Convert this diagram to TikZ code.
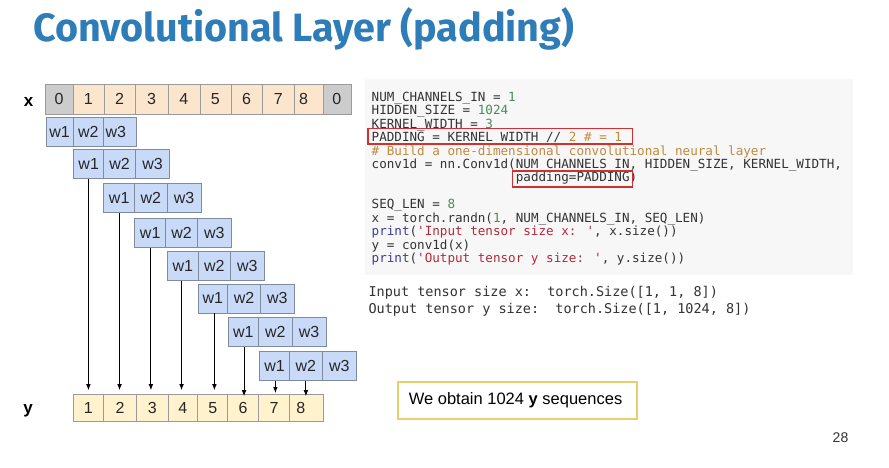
\documentclass[tikz,border=0pt]{standalone}
\usepackage{fontspec}
\setmainfont{Liberation Sans}
\newfontfamily\titlefont{Fira Sans}
\newfontfamily\codefont{DejaVu Sans Mono}[Ligatures=TeXOff]
\usetikzlibrary{arrows.meta}
\definecolor{titleblue}{HTML}{2F7DB8}
\definecolor{xfill}{HTML}{FCE5CD}
\definecolor{padfill}{HTML}{CCCCCC}
\definecolor{wfill}{HTML}{C9DAF8}
\definecolor{yfill}{HTML}{FFF2CC}
\definecolor{cellborder}{HTML}{9A9A9A}
\definecolor{wborder}{HTML}{7F8C9E}
\definecolor{codebg}{HTML}{F7F7F7}
\definecolor{codetxt}{HTML}{333333}
\definecolor{cnum}{HTML}{4A8A5A}
\definecolor{ccom}{HTML}{BF8A40}
\definecolor{ckey}{HTML}{3B3B9B}
\definecolor{cstr}{HTML}{B22A3A}
\definecolor{redbox}{HTML}{D03030}
\definecolor{goldbox}{HTML}{E8CF6E}
\begin{document}
\begin{tikzpicture}[x=1pt,y=-1pt,
  cellbase/.style={draw=cellborder, line width=0.8pt, inner sep=0pt, minimum height=30pt,
    anchor=north west, font=\fontsize{16}{18}\selectfont, text=black!85},
  xcell/.style={cellbase, fill=xfill},
  padcell/.style={cellbase, fill=padfill},
  ycell/.style={cellbase, fill=yfill, minimum height=27pt},
  wcell/.style={cellbase, draw=wborder, fill=wfill, minimum height=29pt},
  rowlabel/.style={font=\fontsize{17}{18}\selectfont\bfseries, anchor=base},
  codeline/.style={anchor=base west, inner sep=0pt, font=\codefont\fontsize{12.6}{13}\selectfont, text=codetxt},
  outline/.style={anchor=base west, inner sep=0pt, font=\codefont\fontsize{13.5}{14}\selectfont, text=codetxt},
  hilite/.style={draw=redbox, line width=1.6pt, inner sep=0pt, anchor=north west},
  arr/.style={-{Latex[length=6pt,width=4.6pt]}, line width=0.9pt, black}
]
\useasboundingbox[fill=white] (0,0) rectangle (889,467);

% title
\node[anchor=base west, inner sep=0pt, text=titleblue, font=\titlefont\bfseries\fontsize{39.5}{42}\selectfont] (title) at (33,41) {Convolutional Layer (padding)};

% x row
\foreach \i/\a/\b/\t/\s in {0/45/72.5/0/padcell, 1/72.5/103.5/1/xcell, 2/103.5/135/2/xcell, 3/135/167.5/3/xcell,
  4/167.5/199.5/4/xcell, 5/199.5/230.5/5/xcell, 6/230.5/262/6/xcell, 7/262/294/7/xcell,
  8/294/322.5/{\hspace*{-10pt}8}/xcell, 9/322.5/350.5/0/padcell}
  \node[\s, minimum width={\b-\a}] (x\i) at (\a,84) {\t};
\node[rowlabel] (xlab) at (28.5,106) {x};

% y row
\foreach \i/\a/\b/\t in {1/72.7/103.3/1, 2/103.3/136/2, 3/136/167.7/3, 4/167.7/197.3/4, 5/197.3/227.3/5,
  6/227.3/258/6, 7/258/289.3/7, 8/289.3/322.7/{\hspace*{-11pt}8}}
  \node[ycell, minimum width={\b-\a}] (y\i) at (\a,394) {\t};
\node[rowlabel] (ylab) at (28,413) {y};

% kernel rows
\foreach \r/\yy/\a/\b/\c/\d in {1/117/45.7/72.7/103.3/135.7, 2/149/73.3/103.3/135/169.3,
  3/183/103.3/134.3/166.7/200.7, 4/218.3/134.3/165.3/197/231, 5/251/166.7/198.3/229.7/264.3,
  6/283.5/197.7/227.3/260/294, 7/317.3/227.7/258.3/291.7/325.7, 8/350.7/259/289.3/321.7/356}{
  \node[wcell, minimum width={\b-\a}] (w\r-1) at (\a,\yy) {w1};
  \node[wcell, minimum width={\c-\b}] (w\r-2) at (\b,\yy) {w2};
  \ifnum\r=1
    \node[wcell, minimum width={\d-\c}] (w\r-3) at (\c,\yy) {\hspace*{-8pt}w3};
  \else
    \node[wcell, minimum width={\d-\c}] (w\r-3) at (\c,\yy) {w3};
  \fi
}

% arrows (visible part starts below the next kernel row)
\draw[arr, shorten >=3.8pt] (w1-2.south |- w2-2.south) -- (w1-2.south |- y1.north);
\draw[arr, shorten >=3.8pt] (w2-2.south |- w3-2.south) -- (w2-2.south |- y2.north);
\draw[arr, shorten >=3.8pt] (w3-2.south |- w4-2.south) -- (w3-2.south |- y3.north);
\draw[arr, shorten >=3.8pt] (w4-2.south |- w5-2.south) -- (w4-2.south |- y4.north);
\draw[arr, shorten >=3.8pt] (w5-2.south |- w6-2.south) -- (w5-2.south |- y5.north);
\draw[arr, shorten >=-2.2pt] (w6-2.south |- w7-2.south) -- (w6-2.south |- y6.north);
\draw[arr, shorten >=1pt] (w7-2.south |- w8-2.south) -- (w7-2.south |- y7.north);
\draw[arr, shorten >=-2.2pt] (w8-2.south) -- (w8-2.south |- y8.north);

% code block
\fill[codebg] (365,79) rectangle (853,275);
\node[codeline] (c1) at (371.5,101.3) {NUM\_CHANNELS\_IN = \textcolor{cnum}{1}};
\node[codeline] (c2) at (371.5,114.7) {HIDDEN\_SIZE = \textcolor{cnum}{1024}};
\node[codeline] (c3) at (371.5,128.2) {KERNEL\_WIDTH = \textcolor{cnum}{3}};
\node[codeline] (c4) at (371.5,141.6) {PADDING = KERNEL\_WIDTH // \textcolor{ccom}{2 \# = 1}};
\node[codeline, text=ccom] (c5) at (371.5,155.0) {\# Build a one-dimensional convolutional neural layer};
\node[codeline] (c6) at (371.5,168.5) {conv1d = nn.Conv1d(NUM\_CHANNELS\_IN, HIDDEN\_SIZE, KERNEL\_WIDTH,};
\node[codeline] (c7) at (371.5,181.9) {\phantom{conv1d = nn.Conv1d(}padding=PADDING)};
\node[codeline] (c8) at (371.5,208.8) {SEQ\_LEN = \textcolor{cnum}{8}};
\node[codeline] (c9) at (371.5,222.2) {x = torch.randn(\textcolor{cnum}{1}, NUM\_CHANNELS\_IN, SEQ\_LEN)};
\node[codeline] (c10) at (371.5,235.6) {\textcolor{ckey}{print}(\textcolor{cstr}{'Input tensor size x: '}, x.size())};
\node[codeline] (c11) at (371.5,249.1) {y = conv1d(x)};
\node[codeline] (c12) at (371.5,262.5) {\textcolor{ckey}{print}(\textcolor{cstr}{'Output tensor y size: '}, y.size())};

% highlight boxes
\node[hilite, minimum width=264.4pt, minimum height=15.6pt] (hl1) at (367.3,127.7) {};
\node[hilite, minimum width=120pt, minimum height=16pt] (hl2) at (511.7,170) {};

% output
\node[outline] (o1) at (368.3,296) {Input tensor size x:~~torch.Size([1, 1, 8])};
\node[outline] (o2) at (368.3,313.3) {Output tensor y size:~~torch.Size([1, 1024, 8])};

% note box
\node[draw=goldbox, line width=1.8pt, minimum width=238.7pt, minimum height=37.6pt, anchor=north west,
  inner sep=0pt, font=\fontsize{16.5}{18}\selectfont] (note) at (397.3,380.7)
  {\hspace*{-4pt}We obtain 1024 \textbf{y} sequences};

% page number
\node[font=\fontsize{14}{16}\selectfont, text=black!80] (page) at (840.5,438) {28};
\end{tikzpicture}
\end{document}
